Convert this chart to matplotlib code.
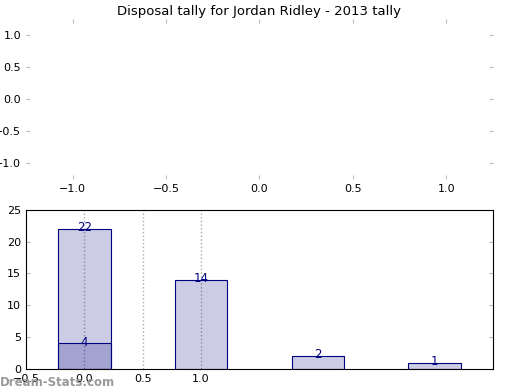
import matplotlib
matplotlib.use("Agg")
import matplotlib.pyplot as plt

positions = [0, 1, 2, 3]
totals = [22, 14, 2, 1]
sub_positions = [0]
sub_values = [4]
grid_x = [0.0, 0.5, 1.0]
bar_ticks = [-0.5, 0.0, 0.5, 1.0]
top_ticks = [-1.0, -0.5, 0.0, 0.5, 1.0]

fig = plt.figure(figsize=(5.2, 3.9), dpi=100)

# top (empty) panel
ax1 = fig.add_axes([0.05, 0.541, 0.898, 0.41])
ax1.set_xlim(-1.25, 1.25)
ax1.set_ylim(-1.25, 1.25)
ax1.set_xticks(top_ticks)
ax1.set_yticks(top_ticks)
for s in ax1.spines.values():
    s.set_visible(False)
ax1.tick_params(colors="#bbbbbb", labelcolor="black", labelsize=8, direction="in",
                top=True, right=True, length=3)
ax1.set_title("Disposal tally for Jordan Ridley - 2013 tally", fontsize=9.5, pad=3)

# bottom bar panel
ax2 = fig.add_axes([0.05, 0.054, 0.898, 0.408])
ax2.bar(positions, totals, width=0.45, color="navy", alpha=0.2, zorder=2)
ax2.bar(positions, totals, width=0.45, facecolor="none", edgecolor="navy", linewidth=0.8, zorder=3)
ax2.bar(sub_positions, sub_values, width=0.45, color="navy", alpha=0.2, zorder=2)
ax2.bar(sub_positions, sub_values, width=0.45, facecolor="none", edgecolor="navy", linewidth=0.8, zorder=3)
for x, v in zip(positions, totals):
    ax2.text(x, v + 0.2, str(v), ha="center", va="center", fontsize=8.5, color="navy", zorder=4)
for x, v in zip(sub_positions, sub_values):
    ax2.text(x, v + 0.2, str(v), ha="center", va="center", fontsize=8.5, color="navy", zorder=4)
for g in grid_x:
    ax2.axvline(g, color="#aaaaaa", linestyle=":", linewidth=1, zorder=1)
ax2.set_xlim(-0.5, 3.5)
ax2.set_ylim(0, 25)
ax2.set_xticks(bar_ticks)
ax2.set_yticks([0, 5, 10, 15, 20, 25])
ax2.tick_params(axis="y", colors="#bbbbbb", labelcolor="black", labelsize=8,
                direction="in", right=True, length=3)
ax2.tick_params(axis="x", length=0, labelsize=8)

fig.text(0.0, 0.01, "Dream-Stats.com", color="#999999", fontsize=8.5, fontweight="bold")

fig.savefig("out.png", dpi=100)
